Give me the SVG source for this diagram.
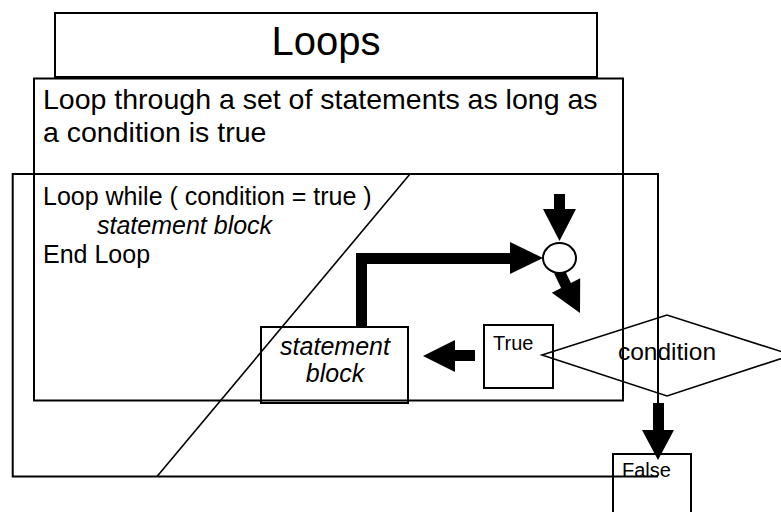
<svg xmlns="http://www.w3.org/2000/svg" width="781" height="512" viewBox="0 0 781 512">
<style>
.box{fill:none;stroke:#000;stroke-width:2}
.thin{fill:none;stroke:#000;stroke-width:1.6}
.arrow{fill:#000;stroke:none}
text{font-family:"Liberation Sans",Arial,sans-serif;fill:#000}
.it{font-style:italic}
</style>
<rect width="781" height="512" fill="#fff"/>
<g id="title">
<rect class="box" x="55" y="13" width="542" height="64"/>
<text x="326" y="55" font-size="40" text-anchor="middle">Loops</text>
</g>
<g id="description">
<rect class="box" x="34" y="78.5" width="589" height="322"/>
<text x="43" y="109" font-size="28.5">Loop through a set of statements as long as</text>
<text x="43" y="142" font-size="28.5">a condition is true</text>
</g>
<g id="loop-frame">
<path class="box" d="M658,403 V174 H12.7 V476.5 H658"/>
<line class="thin" x1="410" y1="174" x2="157" y2="476.5"/>
</g>
<g id="code">
<text x="43" y="205" font-size="25">Loop while ( condition = true )</text>
<text x="97" y="234" font-size="25" class="it">statement block</text>
<text x="43" y="263" font-size="25">End Loop</text>
</g>
<g id="connectors">
<polygon class="arrow" points="554,194 565,194 565,209 576,209 559.5,241 543,209 554,209"/>
<polygon class="arrow" points="356,327 356,253 510,253 510,242 543,258 510,274 510,264 367,264 367,327"/>
<polygon class="arrow" points="554.1,273.5 561.1,288 551.8,292.7 580,313 580.2,278.3 570.9,283 563.9,268.5"/>
<polygon class="arrow" points="475,350 475,361 455,361 455,372 423,356 455,340 455,350"/>
<polygon class="arrow" points="653,403 664,403 664,430 674,430 658,460 642,430 653,430"/>
</g>
<g id="junction">
<ellipse cx="559.5" cy="258" rx="16.5" ry="15" fill="#fff" stroke="#000" stroke-width="2"/>
</g>
<g id="statement-block">
<rect class="box" x="261" y="327" width="147" height="76"/>
<text x="335" y="355" font-size="25" class="it" text-anchor="middle">statement</text>
<text x="335" y="382" font-size="25" class="it" text-anchor="middle">block</text>
</g>
<g id="true">
<rect class="box" x="484" y="325" width="69" height="63"/>
<text x="493" y="350" font-size="20">True</text>
</g>
<g id="condition">
<polygon class="thin" points="542,355 667,315 792,355 667,396"/>
<text x="667" y="360" font-size="24.5" text-anchor="middle">condition</text>
</g>
<g id="false">
<rect class="box" x="613" y="454" width="78" height="70"/>
<text x="622" y="477" font-size="20">False</text>
</g>
</svg>
